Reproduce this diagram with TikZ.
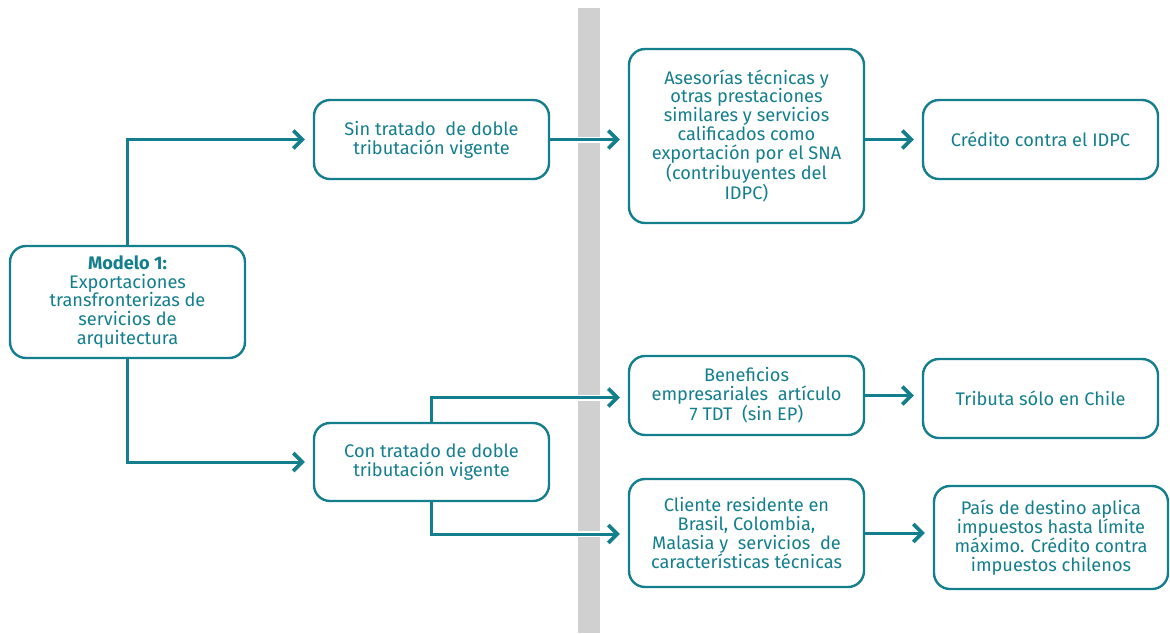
\documentclass[tikz,border=0pt]{standalone}
\usepackage{fontspec}
\setmainfont{Fira Sans}
\usetikzlibrary{arrows.meta}
\definecolor{petrol}{RGB}{19,126,140}
\definecolor{barra}{RGB}{208,208,208}
\tikzset{
  caja/.style={draw=petrol,line width=2.4pt,rounded corners=16pt,fill=white,
    text=petrol,align=center,inner sep=2pt,font=\fontsize{18.2}{18.8}\selectfont},
  flecha/.style={petrol,line width=3pt,shorten >=8pt,
    -{Straight Barb[length=9pt,width=18pt,line width=3.6pt]},
    preaction={draw=white,line width=6pt,-,shorten <=3pt,shorten >=14pt}}
}
\begin{document}
\begin{tikzpicture}[x=1pt,y=-1pt]
  \useasboundingbox (0,0) rectangle (1170,633);
  % separador
  \fill[barra] (578,8) rectangle (600,633);
  % nodos
  \node[caja,minimum width=235pt,minimum height=112pt] (modelo) at (127.5,302)
    {\textbf{Modelo 1:}\\Exportaciones\\transfronterizas de\\servicios de\\arquitectura};
  \node[caja,minimum width=235pt,minimum height=79pt] (sin) at (431.5,139.5)
    {Sin tratado\ \ de doble\\tributación vigente};
  \node[caja,minimum width=235pt,minimum height=78pt] (con) at (431.5,462)
    {Con tratado de doble\\tributación vigente};
  \node[caja,minimum width=235pt,minimum height=174pt] (asesorias) at (746.5,136)
    {Asesorías técnicas y\\otras prestaciones\\similares y servicios\\calificados como\\exportación por el SNA\\(contribuyentes del\\IDPC)};
  \node[caja,minimum width=235pt,minimum height=79pt] (credito) at (1040.5,139.5)
    {Crédito contra el IDPC};
  \node[caja,minimum width=235pt,minimum height=79pt] (beneficios) at (746.5,395.5)
    {Beneficios\\empresariales\ \ artículo\\7 TDT\ \ (sin EP)};
  \node[caja,minimum width=235pt,minimum height=79pt] (tributa) at (1040.5,398.5)
    {Tributa sólo en Chile};
  \node[caja,minimum width=235pt,minimum height=108pt] (cliente) at (746.5,533)
    {Cliente residente en\\Brasil, Colombia,\\Malasia y\ \ servicios\ \ de\\características técnicas};
  \node[caja,minimum width=234pt,minimum height=103pt] (pais) at (1051,537.5)
    {País de destino aplica\\impuestos hasta límite\\máximo. Crédito contra\\impuestos chilenos};
  % conectores
  \draw[flecha] (modelo.north) |- (sin.west);
  \draw[flecha] (modelo.south) |- (con.west);
  \draw[flecha] (sin.east) -- (asesorias.west |- sin.east);
  \draw[flecha] (asesorias.east |- credito.west) -- (credito.west);
  \draw[flecha] (con.north) |- ([yshift=-2pt]beneficios.west);
  \draw[flecha] (beneficios.east) -- (tributa.west |- beneficios.east);
  \draw[flecha] (con.south) |- ([yshift=-1pt]cliente.west);
  \draw[flecha] (cliente.east) -- (pais.west |- cliente.east);
\end{tikzpicture}
\end{document}
